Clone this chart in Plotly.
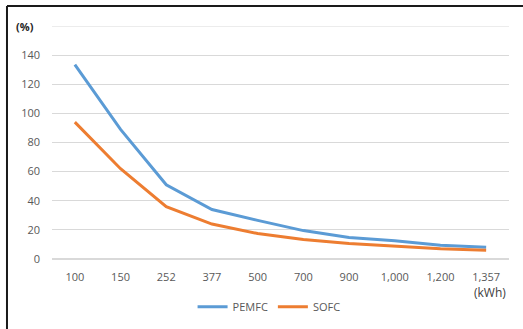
import plotly.graph_objects as go

categories = ["100", "150", "252", "377", "500", "700", "900", "1,000", "1,200", "1,357"]
pemfc = [133.5, 89, 51, 34, 26.5, 19.5, 14.8, 12.6, 9.5, 8]
sofc = [94, 62, 36, 24, 17.5, 13.4, 10.6, 9, 7, 6]
y_ticks = [0, 20, 40, 60, 80, 100, 120, 140]

fig = go.Figure()
fig.add_trace(go.Scatter(x=categories, y=pemfc, mode="lines", name="PEMFC",
                         line=dict(color="#5B9BD5", width=3)))
fig.add_trace(go.Scatter(x=categories, y=sofc, mode="lines", name="SOFC",
                         line=dict(color="#ED7D31", width=3)))

font_family = "Open Sans"
fig.update_layout(
    width=523, height=329,
    margin=dict(l=52, r=14, t=26, b=70, autoexpand=False),
    paper_bgcolor="white", plot_bgcolor="white",
    font=dict(family=font_family, size=11, color="#595959"),
    showlegend=True,
    legend=dict(orientation="h", x=0.475, xanchor="center", y=-0.205, yanchor="middle",
                font=dict(size=11, color="#595959"), itemwidth=30, tracegroupgap=0),
    xaxis=dict(type="category", range=[-0.5, len(categories) - 0.5], showgrid=False,
               showline=False, ticks="", ticklabelstandoff=10, automargin=False,
               tickfont=dict(size=11, color="#595959"), fixedrange=True),
    yaxis=dict(range=[0, 160], tickvals=y_ticks, showgrid=True, gridcolor="#D9D9D9",
               gridwidth=1, zeroline=True, zerolinecolor="#D9D9D9", showline=False,
               automargin=False,
               ticks="", tickfont=dict(size=11, color="#595959"), ticklabelstandoff=11),
)
# top gridline at 160
fig.add_shape(type="line", xref="paper", yref="y", x0=0, x1=1, y0=160, y1=160,
              line=dict(color="#D9D9D9", width=1))
fig.add_annotation(text="<b>(%)</b>", xref="paper", yref="y", x=-0.059, y=160,
                   showarrow=False, xanchor="center", yanchor="middle",
                   font=dict(size=11, color="#262626", family=font_family))
fig.add_annotation(text="(kWh)", xref="paper", yref="paper", x=0.958, y=-0.145,
                   showarrow=False, xanchor="center", yanchor="middle",
                   font=dict(size=12, color="#404040", family=font_family))
# chart frame (left and top edges)
fig.add_shape(type="line", xref="paper", yref="paper", x0=-0.0985, x1=-0.0985, y0=-0.31, y1=1.086,
              line=dict(color="#1a1a1a", width=2))
fig.add_shape(type="line", xref="paper", yref="paper", x0=-0.0985, x1=1.04, y0=1.086, y1=1.086,
              line=dict(color="#1a1a1a", width=2))

fig.write_html("out.html")
